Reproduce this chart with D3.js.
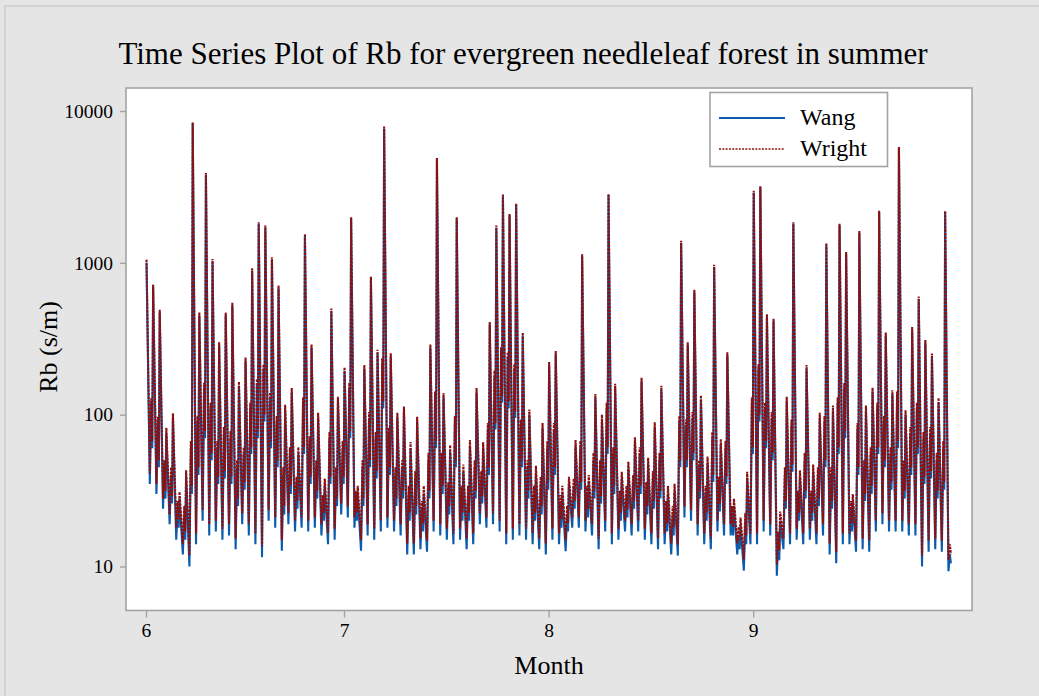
<!DOCTYPE html>
<html>
<head>
<meta charset="utf-8">
<script src="https://cdn.jsdelivr.net/npm/d3@7"></script>
<style>
  html, body { margin: 0; padding: 0; background: #e5e5e5; }
  svg { display: block; }
  text { font-family: "Liberation Serif", "Times New Roman", serif; fill: #000; }
</style>
</head>
<body>
<svg id="chart" width="1039" height="696"></svg>
<script>
// Month ticks (day offset from 1 June) and their labels
const monthStarts = [0, 30, 61, 92];
const monthLabels = ["6", "7", "8", "9"];
const yTickValues = [10, 100, 1000, 10000];
const seriesNames = ["Wang", "Wright"];

// Rb (s/m) for each day, 1 June .. 30 September:
// pre-dawn maximum, midday minimum, evening value, late-evening dip
const wangPeak = [
  1000, 690, 470, 75, 95, 28, 39, 8300, 445, 3800,
  1020, 285, 450, 520, 154, 224, 880, 1800, 1700, 1050,
  680, 107, 140, 55, 1500, 275, 95, 34, 480, 122,
  194, 1950, 30, 200, 780, 254, 7700, 240, 95, 105,
  60, 90, 30, 275, 4800, 130, 57, 1960, 42, 62,
  140, 60, 390, 1700, 2750, 2050, 2400, 330, 100, 41,
  81, 210, 250, 30, 35, 62, 1100, 36, 128, 92,
  2800, 150, 38, 44, 65, 165, 47, 82, 145, 30,
  31, 1350, 285, 640, 125, 48, 940, 63, 245, 25,
  18.6, 38, 2900, 3150, 440, 410, 20, 122, 1800, 39,
  200, 42, 95, 1300, 107, 1760, 1140, 27, 1570, 107,
  142, 2150, 330, 136, 5700, 99, 360, 575, 295, 240,
  120, 2150
];
const wangTrough = [
  35, 30, 24, 19, 15, 12, 10, 14, 20, 16,
  17, 15, 16, 13, 19, 16, 14, 11.5, 20, 18,
  12.7, 19, 17, 18, 17, 18, 16, 14, 15, 22,
  21, 18, 12.7, 16, 15, 17, 18, 17, 16, 12,
  12, 13, 12.5, 17, 16, 15, 14, 15, 13, 14,
  19, 18, 19, 17, 14, 15, 16, 15, 14, 13,
  12, 15, 14, 12.6, 18, 18, 17, 16, 13, 17,
  14, 15, 17, 16, 17, 15, 14, 13, 14, 12,
  11.8, 21, 20, 16, 14, 13, 17, 16, 16, 12,
  9.4, 14, 14, 17, 16, 8.7, 13, 14, 15, 14,
  15, 14, 16, 12, 10.5, 14, 14, 12.5, 13, 12.5,
  17, 19, 17, 17, 17, 16, 16, 10, 12.5, 13,
  12.5, 9.3
];
const wangEvening = [
  120, 90, 45, 40, 24, 22, 60, 90, 150, 110,
  60, 75, 70, 45, 55, 110, 160, 200, 130, 90,
  40, 55, 35, 120, 65, 45, 26, 70, 40, 60,
  150, 28, 45, 95, 70, 220, 75, 40, 45, 30,
  38, 24, 50, 130, 50, 32, 90, 30, 30, 45,
  38, 80, 180, 260, 240, 200, 85, 45, 30, 35,
  60, 80, 26, 22, 34, 60, 30, 50, 45, 110,
  55, 28, 30, 36, 55, 32, 38, 50, 24, 22,
  90, 85, 95, 45, 30, 70, 35, 60, 22, 16,
  20, 120, 200, 110, 95, 15, 40, 85, 28, 50,
  28, 40, 90, 40, 120, 150, 24, 80, 45, 55,
  110, 90, 55, 130, 45, 75, 110, 70, 75, 50,
  60, 12
];
const wangDip = [
  60, 45, 28, 26, 18, 15, 30, 40, 70, 50,
  35, 38, 35, 25, 32, 55, 70, 90, 60, 45,
  22, 30, 24, 55, 35, 28, 20, 35, 25, 35,
  70, 20, 25, 45, 38, 110, 40, 25, 28, 20,
  22, 17, 28, 60, 30, 22, 45, 20, 20, 28,
  26, 40, 80, 120, 110, 95, 45, 28, 20, 22,
  32, 40, 18, 17, 24, 32, 21, 28, 26, 55,
  30, 20, 21, 24, 30, 22, 24, 28, 17, 16,
  45, 45, 50, 28, 20, 36, 23, 35, 16, 13,
  14, 55, 90, 60, 50, 11, 24, 42, 20, 28,
  20, 25, 45, 24, 55, 70, 17, 40, 27, 30,
  55, 45, 32, 60, 28, 40, 55, 35, 38, 28,
  32, 10.5
];
const wrightPeak = [
  1050, 720, 490, 82, 102, 31, 43, 8400, 470, 3900,
  1060, 300, 470, 545, 165, 238, 920, 1850, 1760, 1090,
  710, 116, 150, 61, 1550, 290, 103, 38, 500, 131,
  205, 2000, 34, 212, 810, 268, 7900, 254, 103, 113,
  66, 97, 34, 290, 4900, 139, 63, 2000, 47, 68,
  150, 66, 408, 1760, 2820, 2100, 2460, 347, 108, 46,
  88, 222, 263, 34, 39, 68, 1140, 40, 137, 100,
  2850, 160, 42, 49, 71, 175, 52, 89, 155, 34,
  35, 1400, 300, 665, 134, 53, 970, 69, 258, 28,
  21, 42, 2980, 3200, 460, 430, 23, 131, 1850, 43,
  212, 47, 103, 1350, 115, 1810, 1180, 30, 1620, 115,
  151, 2200, 347, 145, 5800, 107, 378, 600, 310, 253,
  129, 2200
];
const wrightTrough = [
  41, 35, 28, 22, 18, 14, 11.8, 16.5, 23.5, 19,
  20, 17.7, 19, 15.3, 22.4, 19, 16.5, 13.6, 23.6, 21,
  15, 22.4, 20, 21, 20, 21, 19, 16.5, 17.7, 26,
  24.8, 21, 15, 19, 17.7, 20, 21, 20, 19, 14.2,
  14.2, 15.3, 14.8, 20, 19, 17.7, 16.5, 17.7, 15.3, 16.5,
  22.4, 21, 22.4, 20, 16.5, 17.7, 19, 17.7, 16.5, 15.3,
  14.2, 17.7, 16.5, 14.9, 21, 21, 20, 19, 15.3, 20,
  16.5, 17.7, 20, 19, 20, 17.7, 16.5, 15.3, 16.5, 14.2,
  13.9, 24.8, 23.6, 19, 16.5, 15.3, 20, 19, 19, 14.2,
  11.1, 16.5, 16.5, 20, 19, 10.3, 15.3, 16.5, 17.7, 16.5,
  17.7, 16.5, 19, 14.2, 12.4, 16.5, 16.5, 14.8, 15.3, 14.8,
  20, 22.4, 20, 20, 20, 19, 19, 11.8, 14.8, 15.3,
  14.8, 11
];
const wrightEvening = [
  128, 97, 50, 45, 27, 25, 67, 98, 162, 120,
  67, 83, 78, 50, 61, 120, 172, 214, 140, 98,
  45, 61, 39, 130, 72, 50, 29.5, 77, 45, 67,
  162, 31.5, 50, 104, 77, 235, 82, 45, 50, 34,
  42.5, 27, 56, 142, 56, 36, 98, 34, 34, 50,
  42.5, 88, 195, 278, 258, 215, 93, 50, 34, 39,
  67, 88, 29.5, 25, 38, 67, 34, 56, 50, 120,
  61, 31.5, 34, 40, 61, 36, 42.5, 56, 27, 25,
  98, 93, 104, 50, 34, 77, 39, 67, 25, 18.2,
  22.6, 130, 215, 120, 104, 17, 45, 93, 31.5, 56,
  31.5, 45, 98, 45, 130, 162, 27, 88, 50, 61,
  120, 98, 61, 142, 50, 83, 120, 77, 83, 56,
  67, 14
];
const wrightDip = [
  67, 50, 31.5, 29, 20.5, 17, 34, 45, 78, 56,
  39, 42.5, 39, 28, 36, 61, 78, 100, 67, 50,
  25, 34, 27, 61, 39, 31.5, 22.6, 39, 28, 39,
  78, 22.6, 28, 50, 42.5, 122, 45, 28, 31.5, 22.6,
  25, 19.3, 31.5, 67, 34, 25, 50, 22.6, 22.6, 31.5,
  29, 45, 88, 132, 122, 105, 50, 31.5, 22.6, 25,
  36, 45, 20.5, 19.3, 27, 36, 23.8, 31.5, 29, 61,
  34, 22.6, 23.8, 27, 34, 25, 27, 31.5, 19.3, 18.2,
  50, 50, 56, 31.5, 22.6, 40, 26, 39, 18.2, 15,
  16, 61, 100, 67, 56, 12.8, 27, 47, 22.6, 31.5,
  22.6, 28, 50, 27, 61, 78, 19.3, 45, 30, 34,
  61, 50, 36, 67, 31.5, 45, 61, 39, 42.5, 31.5,
  36, 12
];

// Time of day (fraction of a day) at which each daily value is placed
const dayFractions = { peak: 0.08, trough: 0.58, evening: 0.80, dip: 0.95 };

function buildSeries(peaks, troughs, evenings, dips) {
  const pts = [];
  peaks.forEach((p, d) => {
    pts.push({ t: d + dayFractions.peak, v: p });
    pts.push({ t: d + dayFractions.trough, v: troughs[d] });
    pts.push({ t: d + dayFractions.evening, v: evenings[d] });
    pts.push({ t: d + dayFractions.dip, v: dips[d] });
  });
  return pts;
}
const wang = buildSeries(wangPeak, wangTrough, wangEvening, wangDip);
const wright = buildSeries(wrightPeak, wrightTrough, wrightEvening, wrightDip);

const svg = d3.select("#chart");
const W = 1039, H = 696;
const frame = { left: 126, right: 972, top: 88, bottom: 610.5 };

const blue = "#0b5cad";
const red = "#8c1010";

// outer panel
svg.append("rect").attr("x", 5).attr("y", 6).attr("width", W).attr("height", H)
  .attr("fill", "#e5e5e5").attr("stroke", "#c6c6c6").attr("stroke-width", 1.2);

const x = d3.scaleLinear().domain([-3.03, 125.15]).range([frame.left, frame.right]);
const y = d3.scaleLog().domain([5.13, 14175]).range([frame.bottom, frame.top]);

// plot area
svg.append("rect").attr("x", frame.left).attr("y", frame.top)
  .attr("width", frame.right - frame.left).attr("height", frame.bottom - frame.top)
  .attr("fill", "#ffffff");

svg.append("clipPath").attr("id", "clip").append("rect")
  .attr("x", frame.left).attr("y", frame.top)
  .attr("width", frame.right - frame.left).attr("height", frame.bottom - frame.top);

const line = d3.line().x(d => x(d.t)).y(d => y(d.v));

const g = svg.append("g").attr("clip-path", "url(#clip)");
g.append("path").datum(wang).attr("d", line)
  .attr("fill", "none").attr("stroke", blue).attr("stroke-width", 2.1)
  .attr("stroke-linejoin", "miter").attr("stroke-miterlimit", 2);
g.append("path").datum(wright).attr("d", line)
  .attr("fill", "none").attr("stroke", red).attr("stroke-width", 2.1)
  .attr("stroke-dasharray", "2.6,1").attr("stroke-miterlimit", 2);

// frame border
svg.append("rect").attr("x", frame.left).attr("y", frame.top)
  .attr("width", frame.right - frame.left).attr("height", frame.bottom - frame.top)
  .attr("fill", "none").attr("stroke", "#a3a3a3").attr("stroke-width", 1.6);

// axes
const xAxis = d3.axisBottom(x).tickValues(monthStarts)
  .tickFormat((d, i) => monthLabels[i]).tickSize(7).tickPadding(6);
const gx = svg.append("g").attr("transform", `translate(0,${frame.bottom})`).call(xAxis);
gx.select(".domain").remove();
gx.selectAll(".tick line").attr("stroke", "#a3a3a3").attr("stroke-width", 1.4);
gx.selectAll(".tick text").style("font-family", "Liberation Serif, serif")
  .style("font-size", "19.5px").attr("fill", "#000");

const yAxis = d3.axisLeft(y).tickValues(yTickValues)
  .tickFormat(d3.format("d")).tickSize(6).tickPadding(7);
const gy = svg.append("g").attr("transform", `translate(${frame.left},0)`).call(yAxis);
gy.select(".domain").remove();
gy.selectAll(".tick line").attr("stroke", "#a3a3a3").attr("stroke-width", 1.4);
gy.selectAll(".tick text").style("font-family", "Liberation Serif, serif")
  .style("font-size", "19.5px").attr("fill", "#000");

// titles
svg.append("text").attr("x", 523).attr("y", 64).attr("text-anchor", "middle")
  .style("font-size", "31px")
  .text("Time Series Plot of Rb for evergreen needleleaf forest in summer");
svg.append("text").attr("x", 549).attr("y", 674).attr("text-anchor", "middle")
  .style("font-size", "26px").text("Month");
svg.append("text").attr("transform", "translate(57,347) rotate(-90)")
  .attr("text-anchor", "middle").style("font-size", "26px").text("Rb (s/m)");

// legend
const lg = svg.append("g");
lg.append("rect").attr("x", 710).attr("y", 92.5).attr("width", 177.5).attr("height", 74)
  .attr("fill", "#ffffff").attr("stroke", "#a3a3a3").attr("stroke-width", 1.6);
const legendRows = [
  { name: seriesNames[0], color: blue, dash: null, width: 2, yy: 118 },
  { name: seriesNames[1], color: red, dash: "2,1.3", width: 1.7, yy: 149 }
];
legendRows.forEach(r => {
  lg.append("line").attr("x1", 719).attr("x2", 785).attr("y1", r.yy).attr("y2", r.yy)
    .attr("stroke", r.color).attr("stroke-width", r.width)
    .attr("stroke-dasharray", r.dash);
  lg.append("text").attr("x", 800).attr("y", r.yy + 7).style("font-size", "24px").text(r.name);
});
</script>
</body>
</html>
